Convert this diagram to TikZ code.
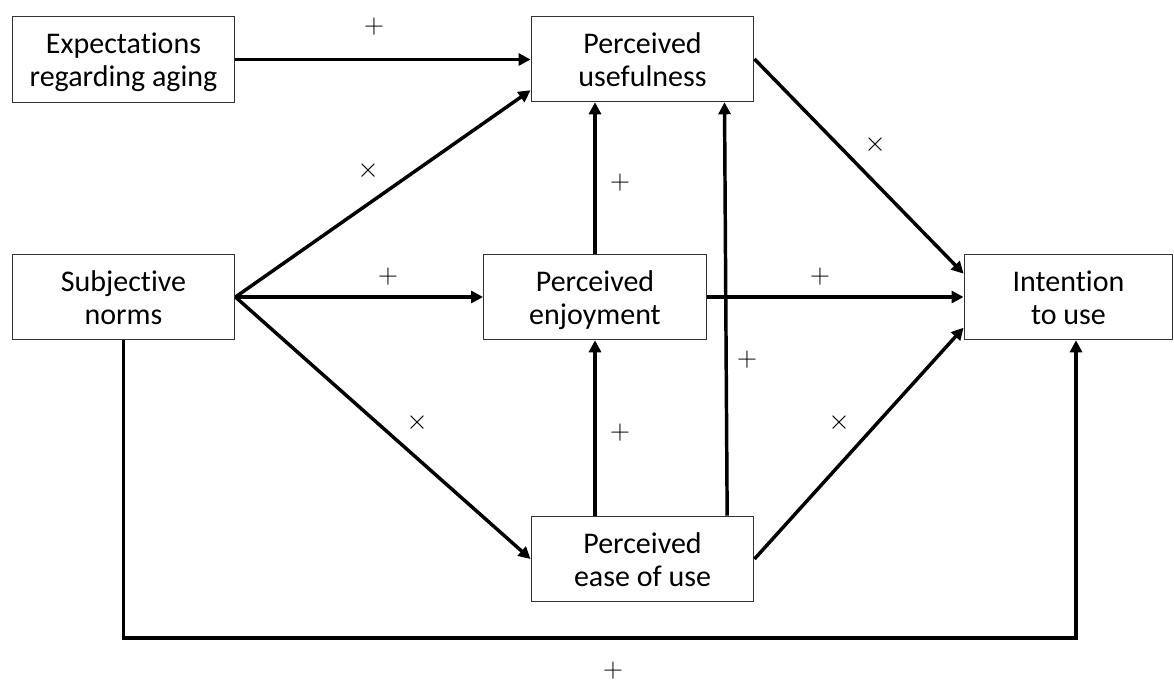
\documentclass[tikz,border=0pt]{standalone}
\usepackage{fontspec}
\setmainfont{Carlito}[Ligatures=NoCommon]
\usetikzlibrary{arrows.meta,calc}

% two lines with fixed ascent and descent
\newcommand{\twolines}[2]{\rule{0pt}{21pt}#1\\#2\rule[-5pt]{0pt}{5pt}}

\tikzset{
  box/.style={draw=black!80, line width=0.9pt, minimum width=167pt, minimum height=64pt,
    align=center, inner sep=0pt, font=\fontsize{22.5}{25}\selectfont},
  arr/.style={line width=2.6pt, -{Triangle[length=9pt,width=9pt]}},
  sign/.style={font=\fontsize{20.5}{24}\selectfont, inner sep=0pt}
}

\begin{document}
\begin{tikzpicture}[x=0.75pt,y=-0.75pt]
  % Canvas
  \useasboundingbox (0,0) rectangle (1174,682);

  % Boxes
  \node[box] (exp) at (123.5,59.5) {\twolines{Expectations}{regarding aging}};
  \node[box] (usef) at (642.5,59) {\twolines{Perceived}{usefulness}};
  \node[box] (subj) at (123.5,297) {\twolines{Subjective}{norms}};
  \node[box] (enjoy) at (595,297) {\twolines{Perceived}{enjoyment}};
  \node[box, minimum width=156.5pt] (intent) at (1068.5,297) {\twolines{Intention}{to use}};
  \node[box] (ease) at (642.5,559) {\twolines{Perceived}{ease of use}};

  % Corners of the long path
  \coordinate (loopL) at (123.5,638);
  \coordinate (loopR) at (1076,638);

  % Arrows
  \draw[arr] (exp.east) -- (exp.east -| usef.west);
  \draw[arr] (subj.east) -- ([yshift=9pt]usef.south west);
  \draw[arr] (subj.east) -- (enjoy.west);
  \draw[arr] (subj.east) -- (ease.west);
  \draw[arr] (usef.east) -- ([yshift=17.5pt]intent.west);
  \draw[arr] (enjoy.east) -- (intent.west);
  \draw[arr] (ease.east) -- ([yshift=-23pt]intent.west);
  \draw[arr] (enjoy.north) -- (enjoy.north |- usef.south);
  \draw[arr] (enjoy.south |- ease.north) -- (enjoy.south);
  \draw[arr] ([xshift=63.5pt]ease.north) -- ([xshift=61.5pt]usef.south);
  \draw[arr] (subj.south) -- (loopL) -- (loopR) -- (loopR |- intent.south);

  % Signs
  \node[sign] (s1) at (374,27) {$+$};
  \node[sign] (s2) at (368,171) {$\times$};
  \node[sign] (s3) at (388,277) {$+$};
  \node[sign] (s4) at (417,423) {$\times$};
  \node[sign] (s5) at (620,183) {$+$};
  \node[sign] (s6) at (820,277) {$+$};
  \node[sign] (s7) at (875,145) {$\times$};
  \node[sign] (s8) at (747,360) {$+$};
  \node[sign] (s9) at (620,433) {$+$};
  \node[sign] (s10) at (839,423) {$\times$};
  \node[sign] (s11) at (613,671) {$+$};
\end{tikzpicture}
\end{document}
